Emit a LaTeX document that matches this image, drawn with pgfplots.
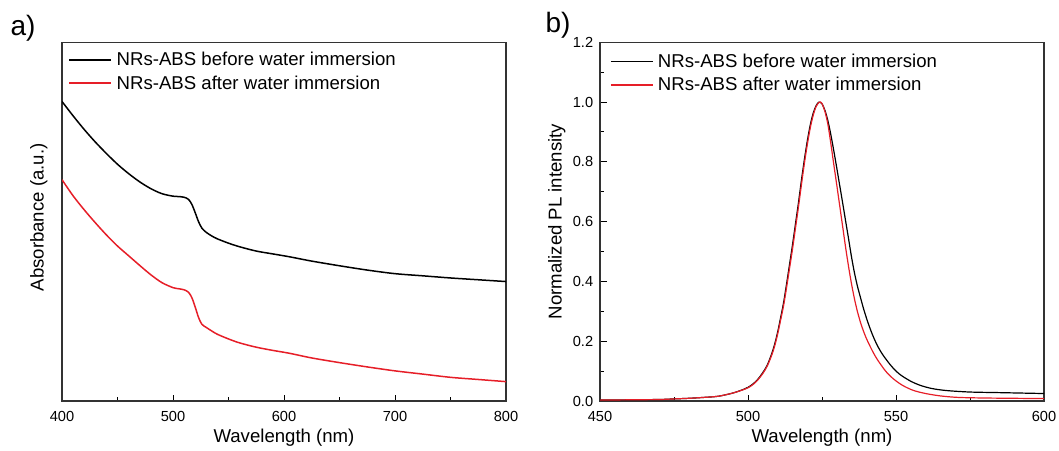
\documentclass[border=0pt]{standalone}
\usepackage{fontspec}
\setmainfont{Liberation Sans}
\usepackage{pgfplots}
\pgfplotsset{compat=1.18}
\newcommand\tickfont{\fontsize{14.6}{16}\selectfont}
\newcommand\labfont{\fontsize{18.6}{21}\selectfont}
\newcommand\panfont{\fontsize{28}{30}\selectfont}
\definecolor{myred}{RGB}{230,30,40}
\pgfplotsset{
  common/.style={
    scale only axis, width=444pt, height=358.7pt,
    anchor=south west,
    tick align=inside, tick pos=left,
    major tick length=6.5pt, minor tick length=4pt,
    line width=1pt,
    every tick/.style={line width=1pt, black},
    axis line style={line width=1.1pt, black!80},
    /pgf/number format/assume math mode=true,
    ticklabel style={font=\tickfont},
    xticklabel style={yshift=-6pt},
    label style={font=\labfont},
    legend cell align=left,
    legend image code/.code={\draw[##1] (0pt,0pt) -- (42pt,0pt);},
  }
}
\begin{document}
\begin{tikzpicture}
\useasboundingbox (0pt,0pt) rectangle (1059pt,450pt);
% ---------------- panel a
\begin{axis}[common, at={(62pt,49pt)},
  xmin=400, xmax=800, ymin=0, ymax=1,
  xtick={400,500,600,700,800}, minor x tick num=1,
  ytick=\empty,
  xlabel={Wavelength (nm)},
  xlabel style={at={(axis description cs:0.5,-0.103)}, anchor=center},
  ylabel={Absorbance (a.u.)},
  ylabel style={at={(axis description cs:-0.052,0.512)}, anchor=center, rotate=0},
  legend style={at={(axis description cs:0.014,0.979)}, anchor=north west, draw=none, fill=none, font=\labfont, row sep=4.4pt, column sep=2.5pt, inner sep=0pt},
]
\addplot[black, line width=1.5pt, smooth] coordinates {
(400,0.835)(410,0.795)(420,0.757)(430,0.722)(440,0.690)(450,0.660)(460,0.634)
(470,0.611)(480,0.592)(490,0.578)(500,0.571)(505,0.570)(510,0.568)(514,0.562)
(517,0.548)(520,0.525)(523,0.500)(526,0.482)(530,0.470)(535,0.460)(540,0.452)
(550,0.440)(560,0.430)(575,0.418)(590,0.410)(605,0.402)(625,0.390)(650,0.377)
(675,0.365)(700,0.355)(725,0.349)(750,0.343)(775,0.338)(800,0.333)};
\addlegendentry{NRs-ABS before water immersion}
\addplot[myred, line width=1.5pt, smooth] coordinates {
(400,0.617)(410,0.572)(420,0.533)(430,0.497)(440,0.463)(450,0.432)(460,0.405)
(470,0.378)(480,0.352)(490,0.330)(500,0.316)(505,0.313)(510,0.310)(514,0.303)
(517,0.288)(520,0.262)(523,0.233)(526,0.214)(530,0.205)(535,0.195)(540,0.186)
(550,0.173)(560,0.162)(575,0.150)(590,0.141)(605,0.133)(625,0.120)(650,0.107)
(675,0.095)(700,0.084)(725,0.075)(750,0.066)(775,0.060)(800,0.054)};
\addlegendentry{NRs-ABS after water immersion}
\end{axis}
% ---------------- panel b
\begin{axis}[common, at={(600pt,49pt)},
  xmin=450, xmax=600, ymin=0, ymax=1.2,
  xtick={450,500,550,600}, minor x tick num=1,
  ytick={0,0.2,0.4,0.6,0.8,1.0,1.2}, minor y tick num=1,
  yticklabel style={xshift=-3pt, /pgf/number format/.cd, fixed, fixed zerofill, precision=1},
  xlabel={Wavelength (nm)},
  xlabel style={at={(axis description cs:0.5,-0.103)}, anchor=center},
  ylabel={Normalized PL intensity},
  ylabel style={at={(axis description cs:-0.097,0.5)}, anchor=center},
  legend style={at={(axis description cs:0.022,0.974)}, anchor=north west, draw=none, fill=none, font=\labfont, row sep=4.4pt, column sep=2.5pt, inner sep=0pt},
]
\addplot[black, line width=1.2pt, smooth] coordinates {
(450,0.003)(460,0.004)(470,0.005)(475,0.007)(480,0.009)(485,0.012)(490,0.016)
(495,0.027)(499,0.041)(501,0.052)(503,0.069)(505,0.095)(506.5,0.120)(508,0.158)
(509,0.190)(510,0.230)(511,0.278)(512,0.328)(513,0.390)(514,0.455)(515,0.520)
(516,0.590)(517,0.660)(518,0.735)(519,0.805)(520,0.868)(521,0.922)(522,0.962)
(523,0.988)(524,1.000)(525,0.994)(526,0.972)(527,0.937)(528,0.890)(529,0.836)
(530,0.779)(531,0.720)(532,0.661)(533,0.601)(534,0.541)(535,0.480)(536,0.427)
(537,0.383)(538,0.346)(539,0.310)(540,0.278)(541,0.249)(542,0.223)(543,0.200)
(544,0.180)(545,0.163)(546,0.148)(548,0.122)(550,0.100)(552,0.084)(555,0.066)
(558,0.053)(562,0.042)(567,0.035)(575,0.030)(585,0.028)(600,0.025)};
\addlegendentry{NRs-ABS before water immersion}
\addplot[myred, line width=1.2pt, smooth] coordinates {
(450,0.003)(460,0.004)(470,0.005)(475,0.007)(480,0.009)(485,0.012)(490,0.016)
(495,0.027)(499,0.040)(501,0.050)(503,0.067)(505,0.092)(506.5,0.117)(508,0.153)
(509,0.184)(510,0.223)(511,0.270)(512,0.318)(513,0.378)(514,0.442)(515,0.506)
(516,0.576)(517,0.646)(518,0.720)(519,0.792)(520,0.856)(521,0.912)(522,0.955)
(523,0.985)(524,0.999)(524.5,1.000)(525,0.995)(526,0.968)(527,0.925)(528,0.860)
(529,0.790)(530,0.722)(531,0.652)(532,0.582)(533,0.512)(534,0.448)(535,0.390)
(536,0.340)(537,0.298)(538,0.263)(539,0.234)(540,0.209)(541,0.188)(542,0.168)
(543,0.150)(544,0.134)(545,0.120)(546,0.106)(547,0.094)(549,0.075)(551,0.060)
(553,0.048)(556,0.035)(560,0.025)(565,0.017)(571,0.012)(580,0.010)(590,0.009)
(600,0.008)};
\addlegendentry{NRs-ABS after water immersion}
\end{axis}
\node[font=\panfont, anchor=center] at (23pt,422pt) {a)};
\node[font=\panfont, anchor=center] at (558pt,425pt) {b)};
\end{tikzpicture}
\end{document}
